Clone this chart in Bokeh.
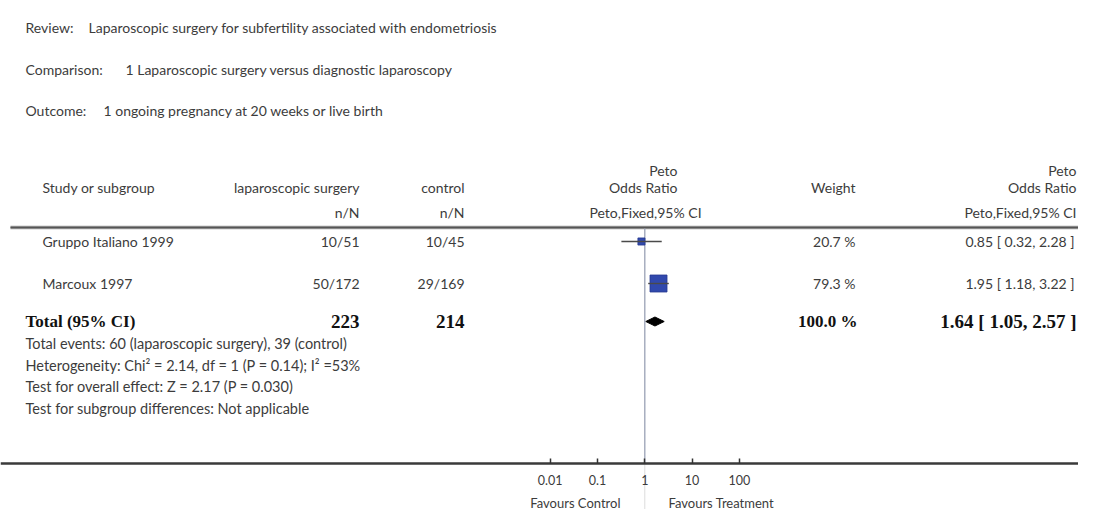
import math
from bokeh.plotting import figure
from bokeh.models import Range1d, LogScale, LogAxis, FixedTicker, CustomJSTickFormatter
from bokeh.core.properties import value
from bokeh.embed import file_html
from bokeh.resources import INLINE

# ---------------- data ----------------
review_label = "Review:"
review_text = "Laparoscopic surgery for subfertility associated with endometriosis"
comparison_label = "Comparison:"
comparison_text = "1 Laparoscopic surgery versus diagnostic laparoscopy"
outcome_label = "Outcome:"
outcome_text = "1 ongoing pregnancy at 20 weeks or live birth"

studies = ["Gruppo Italiano 1999", "Marcoux 1997"]
events_trt = [10, 50]
total_trt = [51, 172]
events_ctl = [10, 29]
total_ctl = [45, 169]
weights = [20.7, 79.3]
or_est = [0.85, 1.95]
ci_lo = [0.32, 1.18]
ci_hi = [2.28, 3.22]

total_n_trt = 223
total_n_ctl = 214
total_weight = 100.0
total_or = 1.64
total_lo = 1.05
total_hi = 2.57

footnotes = [
    "Total events: 60 (laparoscopic surgery), 39 (control)",
    "Heterogeneity: Chi\u00b2 = 2.14, df = 1 (P = 0.14); I\u00b2 =53%",
    "Test for overall effect: Z = 2.17 (P = 0.030)",
    "Test for subgroup differences: Not applicable",
]

tick_values = [0.01, 0.1, 1, 10, 100]
null_value = 1
favours_left = "Favours Control"
favours_right = "Favours Treatment"

# ---------------- layout ----------------
W, H = 1078, 509
ONE_X = 644.3               # pixel where OR = 1
DECADE = 47.3               # pixels per decade
RIGHT = 1076                # right edge of last column

p = figure(width=W, height=H,
           x_range=Range1d(0, W), y_range=Range1d(H, 0),
           min_border=0, toolbar_location=None, output_backend="svg",
           x_axis_location=None, y_axis_location=None,
           outline_line_color=None, background_fill_color="white")
p.grid.visible = False

lo_log = (0 - ONE_X) / DECADE
hi_log = (W - ONE_X) / DECADE
p.extra_x_ranges = {"or": Range1d(10 ** lo_log, 10 ** hi_log)}
p.extra_x_scales = {"or": LogScale()}

GRAY = "#3c3c3c"
SANS = "Lato"
SERIF = "Liberation Serif"
FS = "14px"


def txt(x, y, s, size=FS, align="left", font=SANS, style="normal", color=GRAY):
    p.text(x=[x], y=[y], text=[s], text_font=value(font), text_font_size=value(size),
           text_align=align, text_baseline="middle", text_color=color,
           text_font_style=style)


# title block
for yy, lab, t, xt in [(27, review_label, review_text, 88),
                       (69, comparison_label, comparison_text, 125),
                       (110, outcome_label, outcome_text, 103)]:
    txt(25, yy, lab)
    txt(xt, yy, t)

# column headers
txt(42, 187, "Study or subgroup")
txt(359, 187, "laparoscopic surgery", align="right")
txt(464, 187, "control", align="right")
txt(359, 212, "n/N", align="right")
txt(464, 212, "n/N", align="right")
txt(677, 170, "Peto", align="right")
txt(677, 187, "Odds Ratio", align="right")
txt(645, 212, "Peto,Fixed,95% CI", align="center")
txt(855, 187, "Weight", align="right")
txt(RIGHT, 170, "Peto", align="right")
txt(RIGHT, 187, "Odds Ratio", align="right")
txt(RIGHT, 212, "Peto,Fixed,95% CI", align="right")

# header rule
p.segment(x0=[10], x1=[W], y0=[227], y1=[227], line_color="#9a9a9a", line_width=3.5)
p.segment(x0=[10], x1=[W], y0=[227], y1=[227], line_color="#555555", line_width=1.5)

# null line
AXIS_Y = 463
p.segment(x0=[null_value], x1=[null_value], y0=[228], y1=[AXIS_Y], x_range_name="or",
          line_color="#9aa2b5", line_width=1.3)
p.segment(x0=[null_value], x1=[null_value], y0=[AXIS_Y], y1=[H], x_range_name="or",
          line_color="#dcdcdc", line_width=1.0)

# study rows
row_y = [241, 283]
wmax = max(weights)
sizes = [17 * (w / wmax) ** 0.65 for w in weights]
for i, s in enumerate(studies):
    y = row_y[i]
    txt(42, y, s)
    txt(359, y, f"{events_trt[i]}/{total_trt[i]}", align="right")
    txt(464, y, f"{events_ctl[i]}/{total_ctl[i]}", align="right")
    txt(855, y, f"{weights[i]:.1f} %", align="right")
    txt(RIGHT - 2, y, f"{or_est[i]:.2f} [ {ci_lo[i]:.2f}, {ci_hi[i]:.2f} ]", align="right")

p.scatter(x=or_est, y=row_y, marker="square", size=sizes, x_range_name="or",
          fill_color="#3149ad", line_color="#26398f", line_width=0.8)
p.segment(x0=ci_lo, x1=ci_hi, y0=row_y, y1=row_y, x_range_name="or",
          line_color="#4a4a4a", line_width=1.4)

# total row
ty = 321
BOLD = "#111111"
txt(25, ty, "Total (95% CI)", size="17px", font=SERIF, style="bold", color=BOLD)
txt(359, ty, f"{total_n_trt}", align="right", size="19px", font=SERIF, style="bold", color=BOLD)
txt(464, ty, f"{total_n_ctl}", align="right", size="19px", font=SERIF, style="bold", color=BOLD)
txt(857, ty, f"{total_weight:.1f} %", align="right", size="17px", font=SERIF, style="bold", color=BOLD)
txt(RIGHT, ty, f"{total_or:.2f} [ {total_lo:.2f}, {total_hi:.2f} ]", align="right",
    size="19px", font=SERIF, style="bold", color=BOLD)
p.patch(x=[total_lo, total_or, total_hi, total_or], y=[ty, ty - 4.5, ty, ty + 4.5],
        x_range_name="or", fill_color="black", line_color="black")

# footnotes
for k, f in enumerate(footnotes):
    txt(25, 343 + k * 21.5, f, size="14.5px")

# forest axis
ax = LogAxis(x_range_name="or", fixed_location=AXIS_Y,
             ticker=FixedTicker(ticks=tick_values),
             formatter=CustomJSTickFormatter(code="return tick.toString()"))
ax.axis_line_color = "#3a3a3a"
ax.axis_line_width = 2.5
ax.major_tick_line_color = "#333333"
ax.major_tick_line_width = 1.5
ax.major_tick_in = 5
ax.major_tick_out = 0
ax.minor_tick_line_color = None
ax.major_label_standoff = 11
ax.major_label_text_font = SANS
ax.major_label_text_font_size = "12.5px"
ax.major_label_text_color = GRAY
p.add_layout(ax, "below")

# favours labels
txt(620, 502, favours_left, size="13px", align="right")
txt(668, 502, favours_right, size="13px", align="left")

open("out.html", "w").write(file_html(p, INLINE))
